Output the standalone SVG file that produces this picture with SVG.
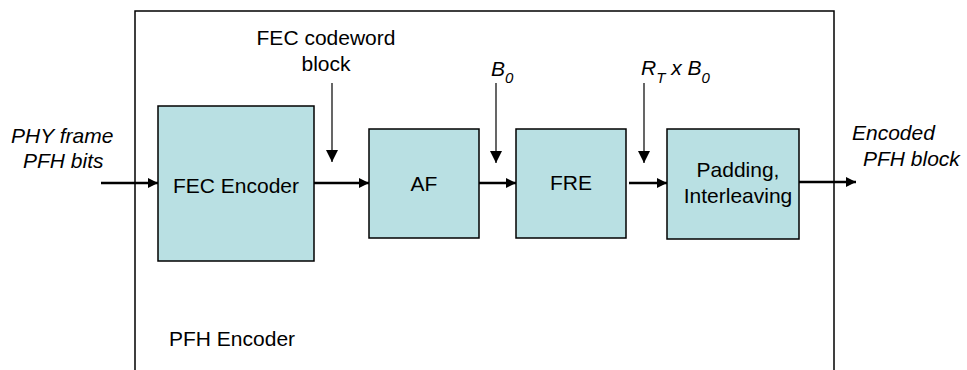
<svg xmlns="http://www.w3.org/2000/svg" width="967" height="370" viewBox="0 0 967 370">
<style>
  text { font-family: "Liberation Sans", Arial, sans-serif; font-size: 21px; fill: #000; }
  .it { font-style: italic; }
  .c { text-anchor: middle; }
  .box { fill: #B9E0E3; stroke: #000; stroke-width: 1.5; }
  .flow { stroke: #000; stroke-width: 2.5; fill: none; marker-end: url(#ah); }
  .down { stroke: #000; stroke-width: 1.2; fill: none; marker-end: url(#dh); }
</style>
<defs>
  <marker id="ah" markerUnits="userSpaceOnUse" markerWidth="12" markerHeight="12" refX="10" refY="5" orient="auto">
    <path d="M0,0 L10,5 L0,10 Z" fill="#000"/>
  </marker>
  <marker id="dh" markerUnits="userSpaceOnUse" markerWidth="14" markerHeight="14" refX="12" refY="6" orient="auto">
    <path d="M0,0 L12,6 L0,12 Z" fill="#000"/>
  </marker>
</defs>
<rect width="967" height="370" fill="#fff"/>
<g id="pfh-encoder">
  <rect x="135" y="11" width="699" height="370" fill="none" stroke="#000" stroke-width="1.5"/>
  <text x="169" y="346">PFH Encoder</text>
</g>
<g id="fec-encoder">
  <rect class="box" x="158" y="106" width="156" height="155"/>
  <text class="c" x="236" y="193">FEC Encoder</text>
</g>
<g id="af">
  <rect class="box" x="369" y="129" width="110" height="109"/>
  <text class="c" x="424" y="191">AF</text>
</g>
<g id="fre">
  <rect class="box" x="516" y="129" width="110" height="109"/>
  <text class="c" x="571" y="190">FRE</text>
</g>
<g id="padding">
  <rect class="box" x="667" y="129" width="132" height="110"/>
  <text class="c" x="738" y="177">Padding,</text>
  <text class="c" x="738" y="203">Interleaving</text>
</g>
<g id="labels">
  <text class="it" x="11" y="143">PHY frame</text>
  <text class="it" x="23" y="168">PFH bits</text>
  <text class="c" x="326" y="45">FEC codeword</text>
  <text class="c" x="326" y="71">block</text>
  <text class="it" x="491" y="76">B<tspan font-size="15" dy="7">0</tspan></text>
  <text class="it" x="641" y="75">R<tspan font-size="15" dy="8">T</tspan><tspan dy="-8"> x B</tspan><tspan font-size="15" dy="8">0</tspan></text>
  <text class="it" x="852" y="140">Encoded</text>
  <text class="it" x="863" y="166">PFH block</text>
</g>
<g id="connectors">
  <line class="flow" x1="101" y1="183" x2="158" y2="183"/>
  <line class="flow" x1="314" y1="183" x2="369" y2="183"/>
  <line class="flow" x1="479" y1="183" x2="516" y2="183"/>
  <line class="flow" x1="629" y1="183" x2="667" y2="183"/>
  <line class="flow" x1="799" y1="182" x2="856" y2="182"/>
  <line class="down" x1="332" y1="83" x2="332" y2="162"/>
  <line class="down" x1="496" y1="83" x2="496" y2="163"/>
  <line class="down" x1="644" y1="83" x2="644" y2="163"/>
</g>
</svg>
